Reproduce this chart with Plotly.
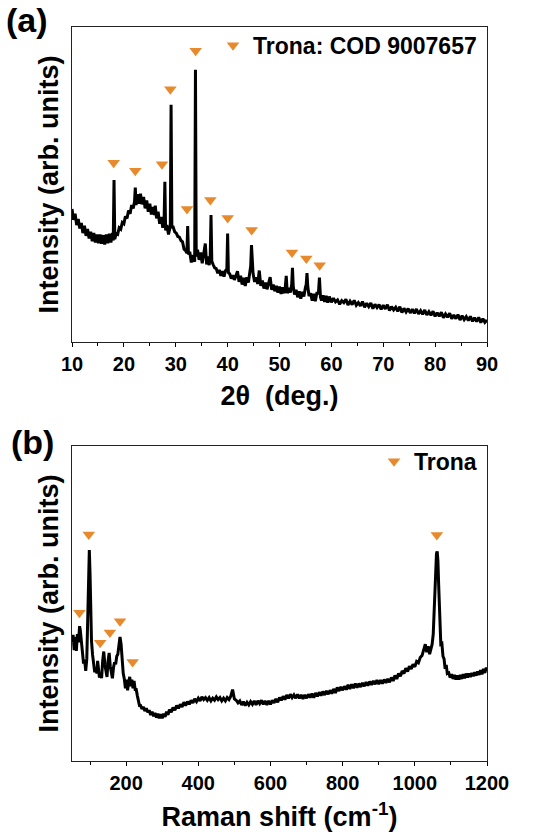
import plotly.graph_objects as go
from plotly.subplots import make_subplots

# ---------------- XRD (panel a) ----------------
xrd_2theta = [
 10.0,10.3,10.6,10.9,11.2,11.5,11.8,12.1,12.4,12.7,
 13.0,13.3,13.6,13.9,14.2,14.5,14.8,15.1,15.4,15.7,
 16.0,16.3,16.6,16.9,17.2,17.5,17.8,17.95,18.1,18.25,
 18.5,18.8,19.1,19.4,19.7,20.0,20.3,20.6,20.9,21.2,
 21.5,21.8,22.05,22.2,22.35,22.6,22.9,23.2,23.5,23.8,
 24.1,24.4,24.7,25.0,25.3,25.6,25.9,26.05,26.3,26.6,
 26.9,27.2,27.5,27.75,27.9,28.05,28.3,28.6,28.95,29.1,
 29.25,29.5,29.8,30.1,30.4,30.7,31.0,31.3,31.6,31.9,
 32.15,32.3,32.45,32.7,33.0,33.3,33.65,33.8,33.95,34.2,
 34.5,34.8,35.1,35.4,35.7,35.95,36.2,36.45,36.65,36.8,
 36.95,37.2,37.5,37.8,38.1,38.4,38.7,39.0,39.3,39.6,
 39.85,40.0,40.15,40.4,40.7,41.0,41.3,41.6,41.9,42.2,
 42.5,42.8,43.1,43.4,43.7,44.0,44.3,44.45,44.6,44.75,
 44.9,45.2,45.5,45.8,46.1,46.4,46.7,47.0,47.3,47.6,
 47.9,48.2,48.5,48.8,49.1,49.4,49.7,50.0,50.3,50.6,
 50.9,51.1,51.3,51.5,51.8,52.1,52.35,52.5,52.65,52.9,
 53.2,53.5,53.8,54.1,54.4,54.7,55.0,55.15,55.3,55.45,
 55.7,56.0,56.3,56.6,56.9,57.2,57.5,57.7,57.9,58.1,
 58.4,58.7,59.0,59.3,59.6,60.0,60.4,60.8,61.2,61.6,
 62.0,62.4,62.8,63.2,63.6,64.0,64.4,64.8,65.2,65.6,
 66.0,66.4,66.8,67.2,67.6,68.0,68.4,68.8,69.2,69.6,
 70.0,70.4,70.8,71.2,71.6,72.0,72.4,72.8,73.2,73.6,
 74.0,74.4,74.8,75.2,75.6,76.0,76.4,76.8,77.2,77.6,
 78.0,78.4,78.8,79.2,79.6,80.0,80.4,80.8,81.2,81.6,
 82.0,82.4,82.8,83.2,83.6,84.0,84.4,84.8,85.2,85.6,
 86.0,86.4,86.8,87.2,87.6,88.0,88.4,88.8,89.2,89.6,
 90.0]
xrd_intensity = [
 398,366,384,350,368,340,356,326,348,318,
 338,310,330,302,326,298,322,296,322,294,
 320,292,322,296,324,298,326,304,485,308,
 324,322,342,338,358,354,376,370,394,384,
 410,400,420,462,410,442,414,444,412,434,
 400,424,390,414,382,404,380,408,370,390,
 354,374,342,362,480,334,350,322,346,710,
 344,344,330,326,316,314,304,300,278,274,
 266,347,262,270,238,260,240,815,256,276,
 246,268,236,262,295,232,256,230,260,380,
 242,232,222,220,206,216,198,212,196,214,
 218,325,208,204,190,200,186,198,212,180,
 198,172,192,168,194,178,212,228,290,232,
 206,180,194,174,214,168,184,160,178,158,
 174,194,156,172,152,168,148,166,144,164,
 146,162,198,146,162,148,172,222,166,142,
 156,134,152,130,150,136,164,172,206,166,
 138,146,124,144,122,146,146,193,134,124,
 140,120,138,118,136,119,131,120,126,113,
 124,118,128,111,122,112,125,110,118,108,
 121,104,116,106,117,100,113,103,112,98,
 110,99,112,94,106,96,104,92,106,88,
 101,90,100,87,98,86,99,84,94,83,
 96,81,91,80,92,77,88,77,89,73,
 84,74,86,70,81,70,82,66,79,67,
 76,64,77,62,73,61,74,58,70,59,
 66]
xrd_peak_2theta = [18.03, 22.2, 27.35, 28.96, 32.17, 33.84, 36.67, 40.01, 44.63, 52.41, 55.17, 57.74]
xrd_peak_mark = [537, 513, 532, 757, 398, 872, 425, 371, 335, 268, 250, 230]

# ---------------- Raman (panel b) ----------------
raman_shift = [
 50,53,56,59,62,65,68,71,73,76,
 79,82,85,88,91,94,96,98,100,102,
 104,107,110,113,116,119,121,123,126,129,
 132,135,138,141,144,147,150,153,156,159,
 162,165,168,171,174,177,180,183,186,189,
 192,195,198,201,204,207,210,213,216,219,
 222,225,
 228,231,234,237,240,244,248,252,256,260,
 264,268,272,276,280,284,288,292,296,300,
 304,308,312,316,320,
 325,330,335,340,345,350,355,360,365,370,
 375,380,385,390,395,400,405,410,415,420,
 425,430,435,440,445,450,455,460,465,470,
 475,480,485,490,495,500,505,510,515,520,
 525,530,535,540,545,550,555,560,565,570,
 575,580,585,590,595,600,605,610,615,620,
 625,630,635,640,645,650,655,660,665,670,
 675,680,685,690,695,700,705,710,715,720,
 725,730,735,740,745,750,755,760,765,770,
 775,780,785,790,795,800,805,810,815,820,
 825,830,835,840,845,850,855,860,865,870,
 875,880,885,890,895,900,905,910,915,920,
 925,930,935,940,945,950,955,960,965,970,
 975,980,985,990,995,1000,1005,1010,1015,1020,
 1025,
 1029,1033,1037,1041,1045,1048,1051,1054,1057,1060,
 1062,1064,1066,1068,1070,1072,1075,1078,1081,1084,
 1087,1090,
 1094,1098,1102,1106,1110,1114,1118,1122,1126,1130,
 1134,1138,1142,1146,1150,1154,1158,1162,1166,1170,
 1174,1178,1182,1186,1190,1194,1198,1200]
raman_intensity = [
 356,378,332,372,330,380,356,404,392,350,
 326,292,304,270,306,420,560,632,560,440,
 360,318,286,266,280,262,300,270,250,262,
 248,300,328,290,262,252,300,324,284,258,
 248,280,296,290,314,320,348,372,350,300,
 262,246,218,244,212,236,252,224,244,218,
 240,214,
 214,196,184,166,166,156,162,150,158,146,
 152,138,148,134,144,130,142,128,140,128,
 142,132,148,138,154,
 146,160,152,166,158,170,162,176,166,178,
 170,182,174,186,178,188,180,192,184,190,
 182,190,180,188,182,192,184,190,180,188,
 180,190,184,194,214,186,182,174,180,168,
 178,166,176,168,178,170,180,168,180,172,
 182,170,180,168,180,170,182,174,186,176,
 190,182,194,184,198,188,200,190,198,188,
 200,188,198,186,198,188,200,190,202,190,
 204,194,206,196,208,198,210,200,212,202,
 216,204,220,210,222,212,224,214,228,216,
 230,218,232,220,232,222,234,224,236,226,
 238,228,240,230,242,230,242,232,244,234,
 246,236,250,240,256,246,262,254,270,262,
 278,268,284,276,290,282,298,294,310,316,
 338,
 350,326,344,320,340,350,380,460,560,622,
 628,600,530,440,380,350,352,314,306,276,
 288,262,
 264,250,260,246,258,244,256,244,258,246,
 260,248,262,250,262,252,264,254,266,256,
 268,258,272,260,276,264,280,268]
raman_peak_shift = [70.6, 96.5, 128, 155, 183, 218, 1061]
raman_peak_mark = [444, 679, 354, 385, 419, 297, 677]

assert len(xrd_2theta) == len(xrd_intensity)
assert len(raman_shift) == len(raman_intensity)

ORANGE = "#E88A2C"
FONT = "Liberation Sans, Arial, sans-serif"

fig = make_subplots(rows=2, cols=1, vertical_spacing=0.1416)
fig.update_layout(
    width=541, height=832,
    margin=dict(l=72, r=54, t=27, b=71, autoexpand=False),
    paper_bgcolor="white", plot_bgcolor="white",
    font=dict(family=FONT, color="black", size=20, weight="bold"),
)

fig.add_trace(go.Scatter(x=xrd_2theta, y=xrd_intensity, mode="lines",
                         line=dict(color="black", width=3), showlegend=False), row=1, col=1)
fig.add_trace(go.Scatter(x=xrd_peak_2theta, y=xrd_peak_mark, mode="markers",
                         marker=dict(symbol="triangle-down", size=11, color=ORANGE),
                         name="Trona: COD 9007657", legend="legend"), row=1, col=1)
fig.add_trace(go.Scatter(x=raman_shift, y=raman_intensity, mode="lines",
                         line=dict(color="black", width=3), showlegend=False), row=2, col=1)
fig.add_trace(go.Scatter(x=raman_peak_shift, y=raman_peak_mark, mode="markers",
                         marker=dict(symbol="triangle-down", size=11, color=ORANGE),
                         name="Trona", legend="legend2"), row=2, col=1)

fig.update_layout(
    yaxis=dict(domain=[0.5708, 1.0]),
    yaxis2=dict(domain=[0.0, 0.4292]),
    legend=dict(x=0.988, y=1.0045, xanchor="right", yanchor="top", bgcolor="rgba(0,0,0,0)",
                font=dict(size=23, family=FONT, weight="bold"), itemwidth=30, borderwidth=0),
    legend2=dict(x=0.988, y=0.4375, xanchor="right", yanchor="top", bgcolor="rgba(0,0,0,0)",
                 font=dict(size=23, family=FONT, weight="bold"), itemwidth=30, borderwidth=0),
)

axis_common = dict(showline=True, linecolor="#222222", linewidth=1, mirror=True,
                   showgrid=False, zeroline=False, automargin=False)
fig.update_xaxes(**axis_common, ticks="outside", ticklen=4, tickwidth=1, tickcolor="black",
                 tickfont=dict(size=20, family=FONT, weight="bold"),
                 title_font=dict(size=27, family=FONT, weight="bold"))
fig.update_yaxes(**axis_common, showticklabels=False, ticks="",
                 title_font=dict(size=27, family=FONT, weight="bold"))

fig.update_xaxes(range=[10, 90], dtick=10, tick0=0,
                 minor=dict(dtick=5, ticks="outside", ticklen=3, tickcolor="black"),
                 title=dict(text="2θ  (deg.)", standoff=12), row=1, col=1)
fig.update_xaxes(range=[50, 1200], dtick=200, tick0=0,
                 minor=dict(dtick=100, ticks="outside", ticklen=3, tickcolor="black"),
                 title=dict(text="Raman shift (cm<sup>-1</sup>)", standoff=19), row=2, col=1)
fig.update_yaxes(range=[0, 943], title=dict(text="Intensity (arb. units)", standoff=4), row=1, col=1)
fig.update_yaxes(range=[0, 944], title=dict(text="Intensity (arb. units)", standoff=4), row=2, col=1)

fig.add_annotation(text="(a)", x=-0.108, y=1.0095, xref="paper", yref="paper",
                   xanchor="center", yanchor="middle",
                   showarrow=False, font=dict(size=34, family=FONT, weight="bold"))
fig.add_annotation(text="(b)", x=-0.094, y=0.4346, xref="paper", yref="paper",
                   xanchor="center", yanchor="middle",
                   showarrow=False, font=dict(size=34, family=FONT, weight="bold"))

fig.write_html("out.html", config={"displayModeBar": False},
               post_script="document.body.style.margin='0';document.body.style.overflow='hidden';")
